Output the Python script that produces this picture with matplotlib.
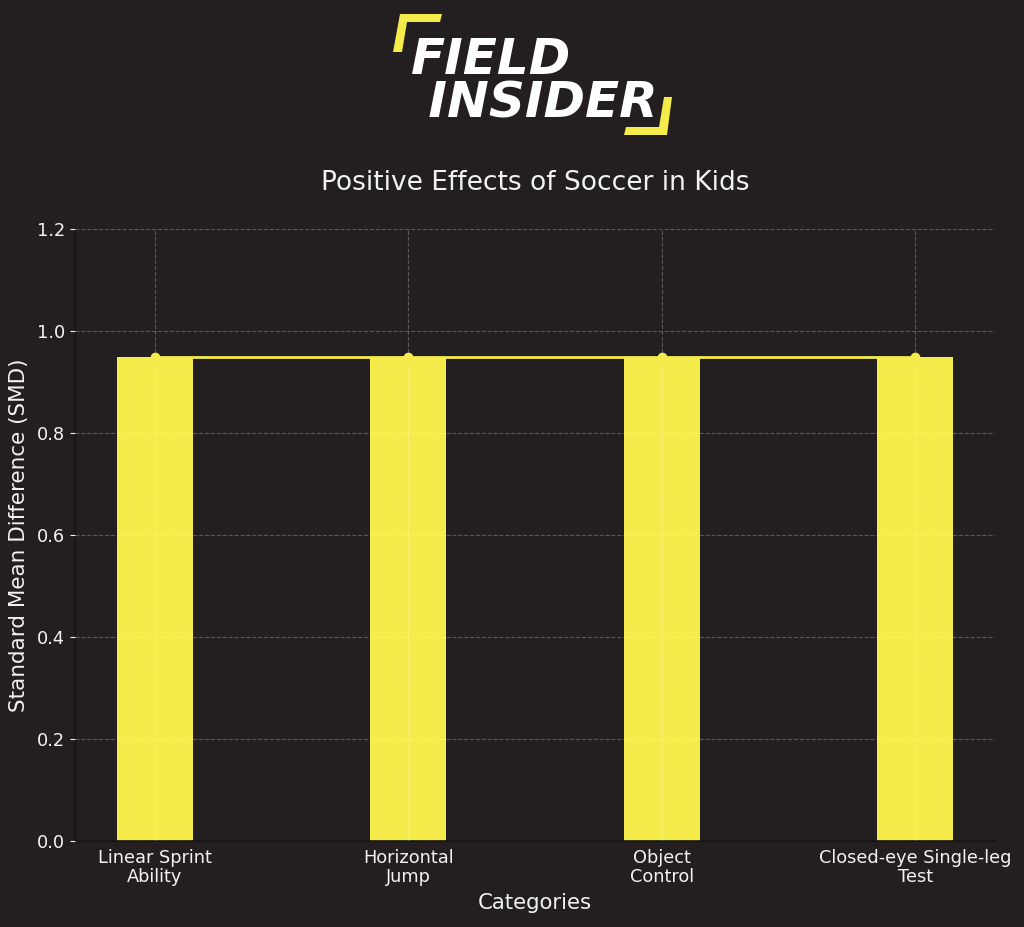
import matplotlib
matplotlib.use("Agg")
import matplotlib.pyplot as plt
from matplotlib.patches import Polygon

categories = ["Linear Sprint\nAbility", "Horizontal\nJump", "Object\nControl", "Closed-eye Single-leg\nTest"]
smd_values = [0.95, 0.95, 0.95, 0.95]
y_ticks = [0.0, 0.2, 0.4, 0.6, 0.8, 1.0, 1.2]

bg = "#231f20"
yellow = "#f5ec4b"
fg = "#f2f2f2"

W, H = 1024, 927
fig = plt.figure(figsize=(W / 100, H / 100), dpi=100, facecolor=bg)
ax = fig.add_axes([75 / W, 1 - 841 / H, (995 - 75) / W, (841 - 229) / H], facecolor=bg)

x = list(range(len(categories)))
ax.bar(x, smd_values, width=0.3, color=yellow, zorder=2)
ax.plot(x, smd_values, color=yellow, marker="o", markersize=6, linewidth=2, zorder=3)

ax.set_ylim(0, 1.2)
ax.set_yticks(y_ticks)
ax.set_yticklabels([f"{v:.1f}" for v in y_ticks])
ax.set_xticks(x)
ax.set_xticklabels(categories, fontsize=12.8, color=fg, linespacing=1.05)
ax.tick_params(axis="y", labelsize=12.8, colors=fg)
ax.tick_params(axis="x", colors=fg, length=0, pad=6)
ax.grid(True, linestyle="--", color="white", alpha=0.25, linewidth=0.8, zorder=4)
ax.set_axisbelow(False)
for s in ["top", "right"]:
    ax.spines[s].set_visible(False)
for s in ["left", "bottom"]:
    ax.spines[s].set_color("#151213")
    ax.spines[s].set_linewidth(1.2)

ax.set_xlabel("Categories", fontsize=15.3, color=fg, labelpad=5)
ax.set_ylabel("Standard Mean Difference (SMD)", fontsize=15.5, color=fg, labelpad=6)
ax.set_title("Positive Effects of Soccer in Kids", fontsize=19, color=fg, pad=28)


# logo
def px(pts):
    return [(px_x / W, 1 - px_y / H) for px_x, px_y in pts]


fig.patches.append(Polygon(px([(400, 14), (442, 14), (440, 22), (407, 22), (402, 52), (393, 52)]),
                           closed=True, transform=fig.transFigure, facecolor=yellow, edgecolor="none"))
fig.patches.append(Polygon(px([(664, 97), (672, 97), (667, 135), (624, 135), (626, 127), (659, 127)]),
                           closed=True, transform=fig.transFigure, facecolor=yellow, edgecolor="none"))
fig.text(411 / W, 1 - 117 / H, "FIELD\n INSIDER", fontsize=36, fontweight="heavy", style="italic",
         color="white", family="DejaVu Sans", ha="left", va="baseline", linespacing=0.86,
         multialignment="left")

fig.savefig("out.png", dpi=100, facecolor=bg)
